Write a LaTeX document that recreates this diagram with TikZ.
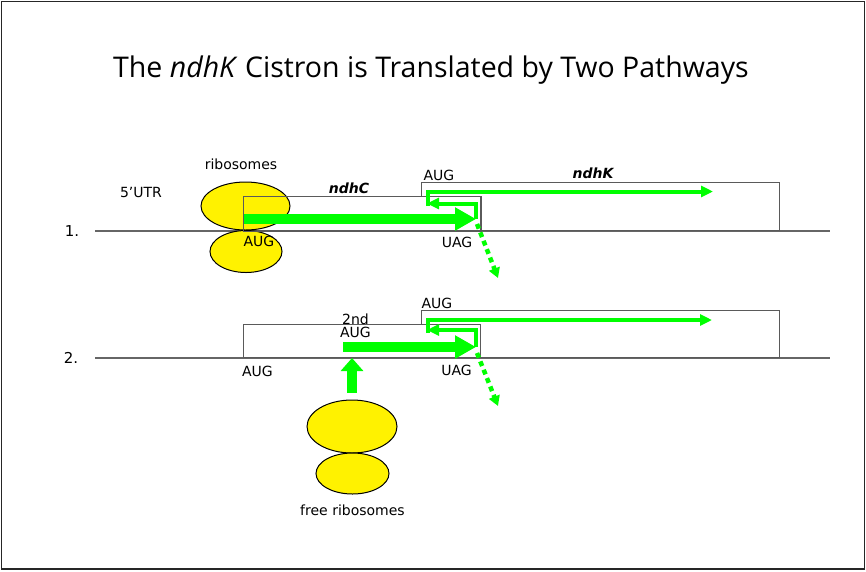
\documentclass[tikz,border=0pt]{standalone}
\usepackage{fontspec}
\setmainfont{DejaVu Sans}
\newfontfamily\titlefont{Open Sans}
\usetikzlibrary{arrows.meta,positioning,shapes.geometric}
\definecolor{rnagreen}{RGB}{0,255,0}
\definecolor{boxgray}{RGB}{90,90,90}

\begin{document}
\begin{tikzpicture}[x=1pt,y=-1pt,
		gene/.style={draw=boxgray,line width=1pt,fill=white,inner sep=0pt,anchor=south west},
		edge/.style={draw=boxgray,line width=1pt},
		base/.style={draw=black!60,line width=1.2pt},
		rib/.style={ellipse,draw=black,line width=1pt,fill=yellow,inner sep=0pt},
		lbl/.style={font=\fontsize{14}{16}\selectfont,inner sep=0pt},
		fat/.style={rnagreen,line width=10pt,-{Triangle[length=21pt,width=22pt]}},
		relay/.style={rnagreen,line width=4pt,-{Triangle[length=12pt,width=11pt]}},
		leak/.style={rnagreen,line width=4.5pt,dash pattern=on 5pt off 4pt,-{Triangle[length=10pt,width=11pt]}}]
	\useasboundingbox (0,0) rectangle (866,571);
	\draw[line width=1.5pt,black!85] (1.5,1.5) rectangle (864.5,569);
	\node[font=\titlefont\fontsize{28.5}{33}\selectfont] (title) at (431,70) {The \textit{ndhK} Cistron is Translated by Two Pathways};

	% pathway 1
	\coordinate (l1) at (95,231);
	\coordinate (r1) at (830,231);
	\draw[base] (l1) -- (r1);
	\node[lbl,font=\fontsize{15}{17}\selectfont] (one) at (72,231) {1.};
	\node[gene,minimum width=358pt,minimum height=48pt] (k1) at (421,231) {};
	\node[gene,minimum width=237pt,minimum height=34pt] (c1) at (243,231) {};
	\node[rib,minimum width=72pt,minimum height=42pt] (rb1) at (246,251.5) {};
	\node[rib,minimum width=89pt,minimum height=48pt] (ra1) at (245.5,206) {};
	\draw[edge] (c1.south west) rectangle (c1.north east);
	\node[lbl] (utr) at (141,192) {5’UTR};
	\node[lbl] (ribs) at (241,164) {ribosomes};
	\node[lbl,font=\fontsize{14}{16}\selectfont\bfseries\itshape] (nc1) at (349,188) {ndhC};
	\node[lbl] (s1) at (259,241) {AUG};
	\node[lbl] (st1) at (439,175) {AUG};
	\node[lbl,font=\fontsize{14}{16}\selectfont\bfseries\itshape] (nk1) at (593,173) {ndhK};
	\node[lbl] (e1) at (457,242) {UAG};
	\coordinate (a1) at (244,219);
	\coordinate (u1) at (476,219);
	\coordinate (b1) at (427,203.5);
	\coordinate (h1) at (428,206);
	\coordinate (t1) at (713,191.5);
	\coordinate (p1) at (477,224);
	\coordinate (q1) at (498,278);
	\draw[fat] (a1) -- (u1);
	\draw[relay] (u1) |- (b1);
	\draw[relay] (h1) |- (t1);
	\draw[leak] (p1) -- (q1);

	% pathway 2
	\coordinate (l2) at (95,358);
	\coordinate (r2) at (830,358);
	\draw[base] (l2) -- (r2);
	\node[lbl,font=\fontsize{15}{17}\selectfont] (two) at (71,358) {2.};
	\node[gene,minimum width=358pt,minimum height=47pt] (k2) at (421,358) {};
	\node[gene,minimum width=237pt,minimum height=33pt] (c2) at (243,358) {};
	\node[lbl] (s2) at (257.5,371.5) {AUG};
	\node[lbl,align=center,font=\fontsize{14}{12.5}\selectfont] (s2nd) at (355.5,326) {2nd\\AUG};
	\node[lbl] (st2) at (437,303) {AUG};
	\node[lbl] (e2) at (456.5,370.5) {UAG};
	\node[rib,minimum width=90pt,minimum height=53pt] (ra2) at (352,426.5) {};
	\node[rib,minimum width=73pt,minimum height=41pt] (rb2) at (352.5,473.5) {};
	\node[lbl,below=10pt of rb2] (free) {free ribosomes};
	\coordinate (a2) at (343,347);
	\coordinate (u2) at (476,347);
	\coordinate (b2) at (427,330);
	\coordinate (h2) at (428,333);
	\coordinate (t2) at (712,320);
	\coordinate (p2) at (477,353);
	\coordinate (q2) at (498,406);
	\coordinate (f2) at (352,393);
	\coordinate (g2) at (352,358);
	\draw[fat] (a2) -- (u2);
	\draw[fat,-{Triangle[length=13pt,width=22pt]}] (f2) -- (g2);
	\draw[relay] (u2) |- (b2);
	\draw[relay] (h2) |- (t2);
	\draw[leak] (p2) -- (q2);
\end{tikzpicture}
\end{document}
